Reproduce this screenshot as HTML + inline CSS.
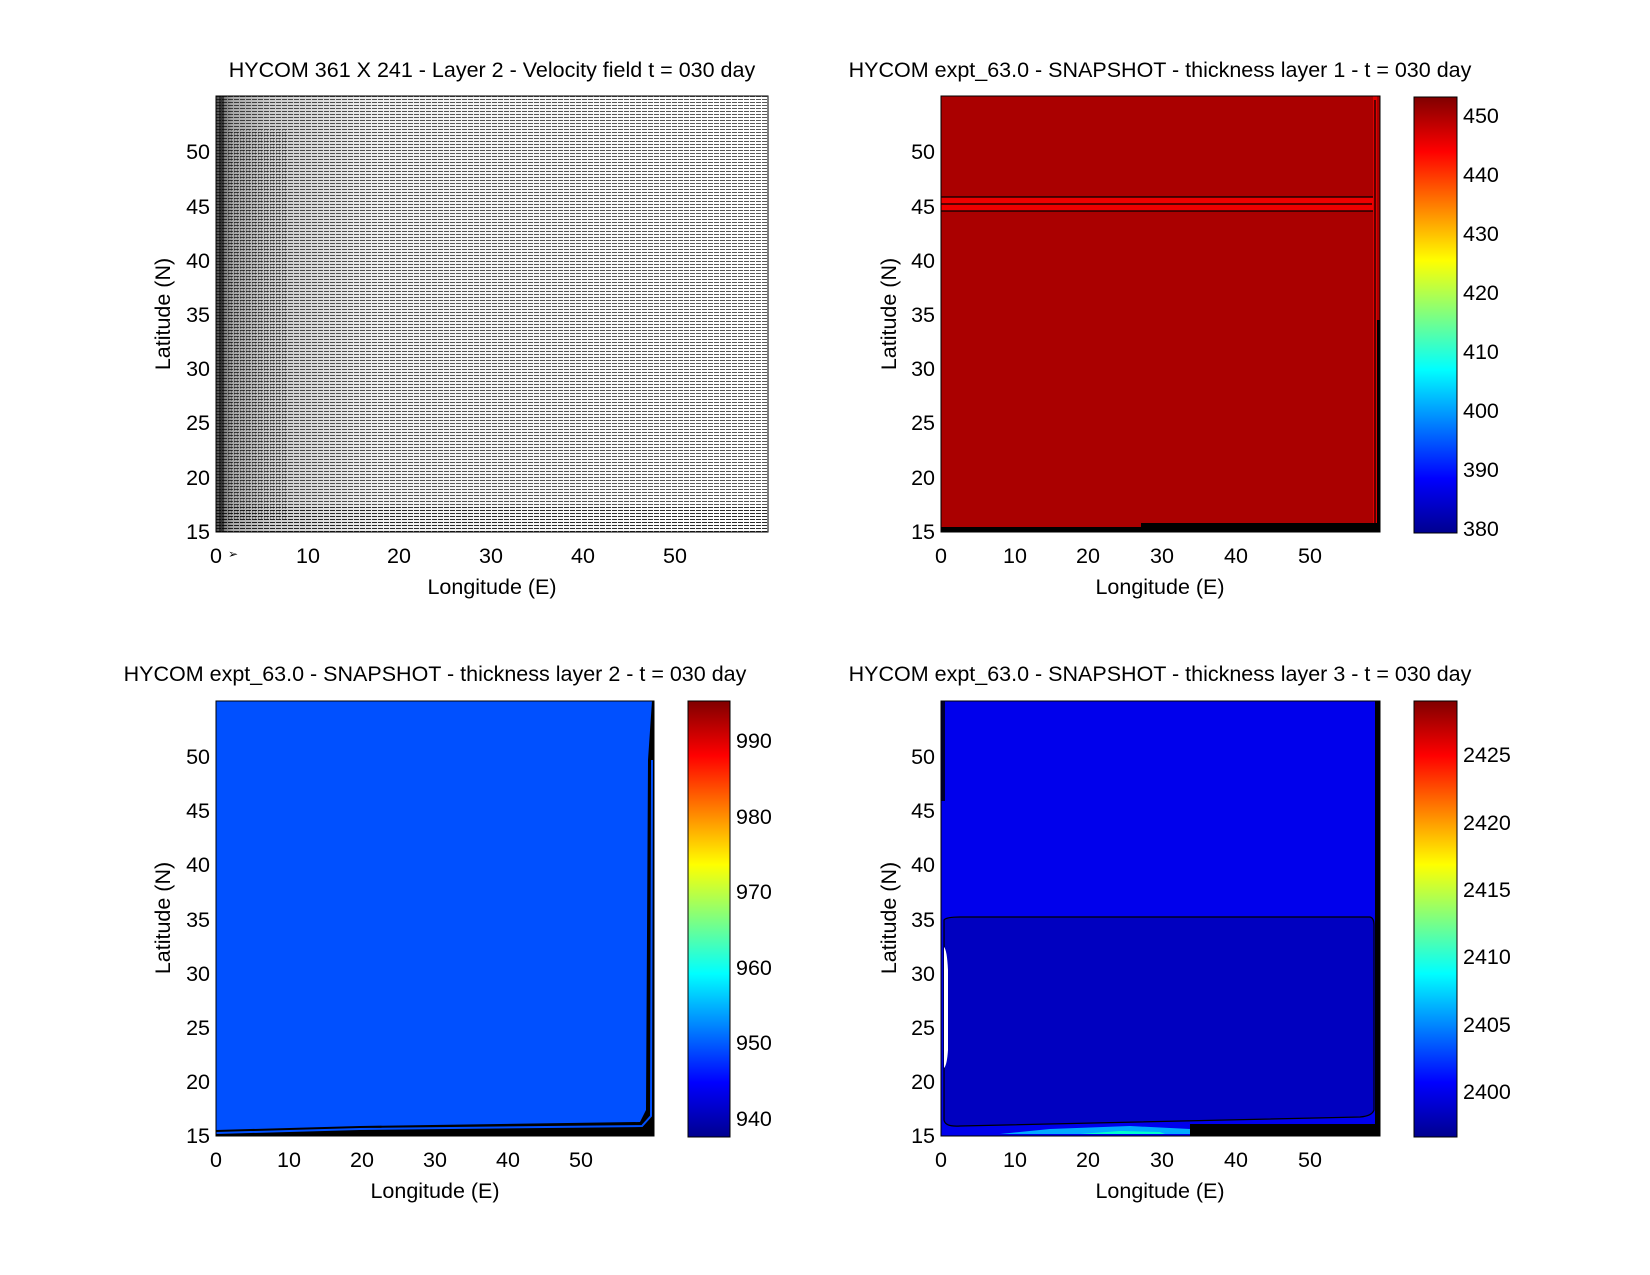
<!DOCTYPE html>
<html><head><meta charset="utf-8"><style>
html,body{margin:0;padding:0;background:#fff;}
svg{display:block;font-family:"Liberation Sans",sans-serif;}
</style></head><body>
<svg width="1650" height="1275" viewBox="0 0 1650 1275" xmlns="http://www.w3.org/2000/svg">
<defs>
<linearGradient id="jet" x1="0" y1="1" x2="0" y2="0">
<stop offset="0" stop-color="#00008f"/><stop offset="0.125" stop-color="#0000ff"/>
<stop offset="0.375" stop-color="#00ffff"/><stop offset="0.625" stop-color="#ffff00"/>
<stop offset="0.875" stop-color="#ff0000"/><stop offset="1" stop-color="#800000"/>
</linearGradient>
<pattern id="q" width="6" height="3" patternUnits="userSpaceOnUse">
<rect x="0" y="0" width="5" height="1" fill="#000"/>
</pattern>
<pattern id="qv" width="3" height="6" patternUnits="userSpaceOnUse">
<rect x="0" y="0" width="1" height="5" fill="#000"/>
</pattern>
<linearGradient id="lshade" x1="0" y1="0" x2="1" y2="0">
<stop offset="0" stop-color="#000" stop-opacity="0.7"/>
<stop offset="0.03" stop-color="#000" stop-opacity="0.35"/>
<stop offset="0.1" stop-color="#000" stop-opacity="0.2"/>
<stop offset="0.3" stop-color="#000" stop-opacity="0.06"/>
<stop offset="1" stop-color="#000" stop-opacity="0"/>
</linearGradient>
</defs>
<g font-size="21.5" fill="#000">
<!-- Panel 1 -->
<text x="492" y="77" text-anchor="middle">HYCOM 361 X 241 - Layer 2 - Velocity field  t = 030 day</text>
<rect x="216" y="96" width="552" height="436" fill="#fff"/>
<rect x="216" y="96" width="552" height="436" fill="url(#q)" opacity="0.65"/>
<rect x="216" y="96" width="552" height="436" fill="url(#lshade)"/>
<rect x="226" y="130" width="60" height="390" fill="url(#qv)" opacity="0.3"/>
<rect x="219" y="96" width="5" height="436" fill="#000" opacity="0.5"/>
<rect x="216" y="505" width="552" height="27" fill="url(#q)" opacity="0.5"/>
<rect x="216" y="96" width="552" height="436" fill="none" stroke="#000" stroke-width="1"/>
<g text-anchor="end">
<text x="210" y="539">15</text><text x="210" y="485">20</text><text x="210" y="430">25</text><text x="210" y="376">30</text><text x="210" y="322">35</text><text x="210" y="268">40</text><text x="210" y="214">45</text><text x="210" y="159">50</text>
</g>
<g text-anchor="middle">
<text x="216" y="563">0</text><text x="308" y="563">10</text><text x="399" y="563">20</text><text x="491" y="563">30</text><text x="583" y="563">40</text><text x="675" y="563">50</text>
<text x="492" y="594">Longitude (E)</text>
</g>
<text x="228" y="558" font-size="12">➢</text>
<text transform="translate(170,314) rotate(-90)" text-anchor="middle">Latitude (N)</text>

<!-- Panel 2 -->
<text x="1160" y="77" text-anchor="middle">HYCOM expt_63.0 - SNAPSHOT - thickness layer 1 - t = 030 day</text>
<rect x="941" y="96" width="439" height="436" fill="#aa0000"/>
<rect x="941" y="197" width="433" height="14" fill="#ee0000"/>
<line x1="941" y1="197" x2="1374" y2="197" stroke="#000" stroke-width="1.2"/>
<line x1="941" y1="204" x2="1372" y2="204" stroke="#000" stroke-width="1.2"/>
<line x1="941" y1="211" x2="1374" y2="211" stroke="#000" stroke-width="1.2"/>
<rect x="1373" y="96" width="4" height="436" fill="#e00000"/>
<line x1="1375" y1="100" x2="1375" y2="525" stroke="#000" stroke-width="1.2"/>
<rect x="1377" y="320" width="3" height="212" fill="#000"/>
<rect x="941" y="523" width="439" height="9" fill="#000"/>
<rect x="941" y="523" width="200" height="4" fill="#aa0000"/>
<rect x="941" y="96" width="439" height="436" fill="none" stroke="#000" stroke-width="1"/>
<g text-anchor="end">
<text x="935" y="539">15</text><text x="935" y="485">20</text><text x="935" y="430">25</text><text x="935" y="376">30</text><text x="935" y="322">35</text><text x="935" y="268">40</text><text x="935" y="214">45</text><text x="935" y="159">50</text>
</g>
<g text-anchor="middle">
<text x="941" y="563">0</text><text x="1015" y="563">10</text><text x="1088" y="563">20</text><text x="1162" y="563">30</text><text x="1236" y="563">40</text><text x="1310" y="563">50</text>
<text x="1160" y="594">Longitude (E)</text>
</g>
<text transform="translate(896,314) rotate(-90)" text-anchor="middle">Latitude (N)</text>
<rect x="1414" y="97" width="43" height="436" fill="url(#jet)" stroke="#000" stroke-width="1"/>
<g text-anchor="start">
<text x="1463" y="123">450</text><text x="1463" y="182">440</text><text x="1463" y="241">430</text><text x="1463" y="300">420</text><text x="1463" y="359">410</text><text x="1463" y="418">400</text><text x="1463" y="477">390</text><text x="1463" y="536">380</text>
</g>

<!-- Panel 3 -->
<text x="435" y="681" text-anchor="middle">HYCOM expt_63.0 - SNAPSHOT - thickness layer 2 - t = 030 day</text>
<rect x="216" y="701" width="438" height="435" fill="#0050ff"/>
<path d="M216 1136 L216 1130 L360 1126 L640 1122 L646 1110 L648 760 L652 701 L654 701 L654 1136 Z" fill="#000"/>
<path d="M216 1133 L360 1129 L642 1126 L651 1116 L652 760" fill="none" stroke="#0050ff" stroke-width="2"/>
<rect x="216" y="701" width="438" height="435" fill="none" stroke="#000" stroke-width="1"/>
<g text-anchor="end">
<text x="210" y="1143">15</text><text x="210" y="1089">20</text><text x="210" y="1035">25</text><text x="210" y="981">30</text><text x="210" y="927">35</text><text x="210" y="872">40</text><text x="210" y="818">45</text><text x="210" y="764">50</text>
</g>
<g text-anchor="middle">
<text x="216" y="1167">0</text><text x="289" y="1167">10</text><text x="362" y="1167">20</text><text x="435" y="1167">30</text><text x="508" y="1167">40</text><text x="581" y="1167">50</text>
<text x="435" y="1198">Longitude (E)</text>
</g>
<text transform="translate(170,918) rotate(-90)" text-anchor="middle">Latitude (N)</text>
<rect x="688" y="701" width="42" height="436" fill="url(#jet)" stroke="#000" stroke-width="1"/>
<g text-anchor="start">
<text x="736" y="748">990</text><text x="736" y="824">980</text><text x="736" y="899">970</text><text x="736" y="975">960</text><text x="736" y="1050">950</text><text x="736" y="1126">940</text>
</g>

<!-- Panel 4 -->
<text x="1160" y="681" text-anchor="middle">HYCOM expt_63.0 - SNAPSHOT - thickness layer 3 - t = 030 day</text>
<rect x="941" y="701" width="439" height="435" fill="#0000ec"/>
<path d="M944 920 Q946 917 960 917 L1370 917 Q1374 918 1374 925 L1374 1110 Q1372 1116 1360 1117 L960 1126 Q945 1127 944 1120 Z" fill="#0000c0" stroke="#000" stroke-width="1.2"/>
<path d="M944 947 Q947 950 948 970 L948 1050 Q947 1065 944 1068 Z" fill="#fff"/>
<path d="M1000 1134 L1050 1129 L1130 1126 L1190 1129 L1195 1134 Z" fill="#00aaff"/>
<path d="M1080 1134 L1120 1131 L1160 1132 L1165 1134 Z" fill="#00ffcc"/>
<rect x="1190" y="1124" width="190" height="12" fill="#000"/>
<rect x="1375" y="701" width="5" height="435" fill="#000"/>
<rect x="941" y="701" width="4" height="100" fill="#000" opacity="0.8"/>
<rect x="941" y="701" width="439" height="435" fill="none" stroke="#000" stroke-width="1"/>
<g text-anchor="end">
<text x="935" y="1143">15</text><text x="935" y="1089">20</text><text x="935" y="1035">25</text><text x="935" y="981">30</text><text x="935" y="927">35</text><text x="935" y="872">40</text><text x="935" y="818">45</text><text x="935" y="764">50</text>
</g>
<g text-anchor="middle">
<text x="941" y="1167">0</text><text x="1015" y="1167">10</text><text x="1088" y="1167">20</text><text x="1162" y="1167">30</text><text x="1236" y="1167">40</text><text x="1310" y="1167">50</text>
<text x="1160" y="1198">Longitude (E)</text>
</g>
<text transform="translate(896,918) rotate(-90)" text-anchor="middle">Latitude (N)</text>
<rect x="1414" y="701" width="43" height="436" fill="url(#jet)" stroke="#000" stroke-width="1"/>
<g text-anchor="start">
<text x="1463" y="762">2425</text><text x="1463" y="830">2420</text><text x="1463" y="897">2415</text><text x="1463" y="964">2410</text><text x="1463" y="1032">2405</text><text x="1463" y="1099">2400</text>
</g>
</g>
</svg>
</body></html>
